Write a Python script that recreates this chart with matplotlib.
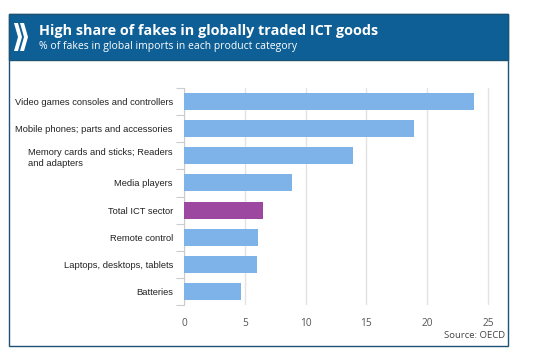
import matplotlib
matplotlib.use("Agg")
import matplotlib.pyplot as plt
from matplotlib.patches import Rectangle, Polygon
import numpy as np

categories = ["Video games consoles and controllers",
              "Mobile phones; parts and accessories",
              "Memory cards and sticks; Readers\nand adapters",
              "Media players",
              "Total ICT sector",
              "Remote control",
              "Laptops, desktops, tablets",
              "Batteries"]
values = [23.9, 18.9, 13.9, 8.9, 6.5, 6.1, 6.0, 4.65]
highlight = "Total ICT sector"
xticks = [0, 5, 10, 15, 20, 25]

W, H = 534, 363
fig = plt.figure(figsize=(W / 100, H / 100), dpi=100)
fig.patch.set_facecolor("white")

def fx(px):
    return px / W

def fy(py):
    return 1 - py / H

# frame and banner
banner_col = "#0e5f96"
fig.patches.append(Rectangle((fx(9), fy(346)), fx(508) - fx(9), fy(14) - fy(346),
                             transform=fig.transFigure, facecolor="white",
                             edgecolor="#1d5475", linewidth=1.0, zorder=-2))
fig.patches.append(Rectangle((fx(9), fy(60)), fx(508) - fx(9), fy(14) - fy(60),
                             transform=fig.transFigure, facecolor=banner_col,
                             edgecolor="#1d5475", linewidth=1.0, zorder=-1))
# logo chevrons
for dx in (0, 6):
    pts = [(14 + dx, 23), (18 + dx, 23), (22 + dx, 37), (18 + dx, 51), (14 + dx, 51), (18 + dx, 37)]
    fig.patches.append(Polygon([(fx(x), fy(y)) for x, y in pts], closed=True,
                               transform=fig.transFigure, facecolor="white",
                               edgecolor="none", zorder=-1))

fig.text(fx(39), fy(31), "High share of fakes in globally traded ICT goods",
         color="white", fontsize=10.4, fontweight="bold", family="Open Sans",
         va="center", ha="left")
fig.text(fx(39), fy(47), "% of fakes in global imports in each product category",
         color="white", fontsize=7.5, family="Open Sans", va="center", ha="left")

ax = fig.add_axes([fx(184), fy(305), fx(500) - fx(184), fy(88) - fy(305)])
ax.set_zorder(5)
y = np.arange(len(categories))
colors = ["#9c48a0" if c == highlight else "#7db3e8" for c in categories]
ax.barh(y, values, height=0.63, color=colors, zorder=3)
ax.set_ylim(len(categories) - 0.5, -0.5)
ax.set_xlim(0, 26.0)
ax.set_xticks(xticks)
ax.set_xticklabels([str(t) for t in xticks], family="Open Sans", fontsize=7.3, color="#555555")
ax.tick_params(axis="x", length=0, pad=9)
ax.set_yticks(y)
ax.set_yticklabels(categories, family="Liberation Sans", fontsize=6.75, color="#222222",
                   multialignment="left", linespacing=1.3)
ax.tick_params(axis="y", length=0, pad=8)
ax.set_yticks(np.arange(len(categories) + 1) - 0.5, minor=True)
ax.tick_params(axis="y", which="minor", length=6, color="#cccccc", width=0.8)
ax.grid(axis="x", color="#e3e3e3", linewidth=1.0, zorder=0)
for s in ["top", "right", "bottom"]:
    ax.spines[s].set_visible(False)
ax.spines["left"].set_color("#cccccc")
ax.spines["left"].set_linewidth(0.8)
ax.patch.set_alpha(0)

fig.text(fx(505), fy(335), "Source: OECD", family="Open Sans", fontsize=6.8,
         color="#444444", ha="right", va="center")

fig.savefig("out.png", dpi=100)
